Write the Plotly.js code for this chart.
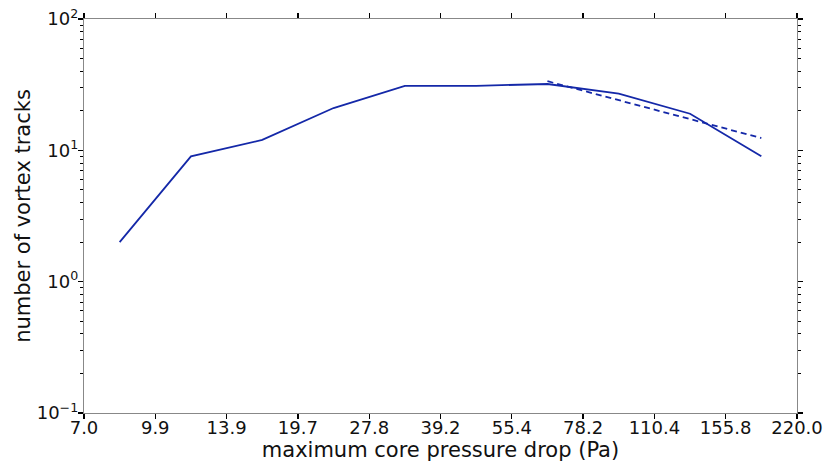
<!DOCTYPE html>
<html>
<head>
<meta charset="utf-8">
<script src="https://cdn.plot.ly/plotly-3.0.1.min.js"></script>
<style>
  html, body { margin: 0; padding: 0; background: #fff; }
  #chart { width: 825px; height: 462px; }
</style>
</head>
<body>
<div id="chart"></div>
<script>
// Bin centres (geometric) of the pressure-drop bins, in Pa
const binCentres = [8.317, 11.741, 16.574, 23.397, 33.029, 46.625, 65.818, 92.912, 131.16, 185.15];
// Vortex track counts per bin
const trackCounts = [2, 9, 12, 21, 31, 31, 32, 27, 19, 9];

// Power-law fit over the upper bins (end points of the straight log-log line)
const fitX = [65.818, 185.15];
const fitY = [33.6, 12.4];

// Bin edges used as x tick positions and labels
const xTickVals = [7.0, 9.88, 13.95, 19.69, 27.8, 39.24, 55.4, 78.2, 110.4, 155.8, 220.0];
const xTickText = ['7.0', '9.9', '13.9', '19.7', '27.8', '39.2', '55.4', '78.2', '110.4', '155.8', '220.0'];

const yTickVals = [0.1, 1, 10, 100];
const yTickText = ['10<sup>\u22121</sup>', '10<sup>0</sup>', '10<sup>1</sup>', '10<sup>2</sup>'];

const lineColor = '#1428a8';

const traces = [
  {
    x: binCentres, y: trackCounts, type: 'scatter', mode: 'lines',
    line: { color: lineColor, width: 1.8 }, hoverinfo: 'skip'
  },
  {
    x: fitX, y: fitY, type: 'scatter', mode: 'lines',
    line: { color: lineColor, width: 1.8, dash: '6px,4px' }, hoverinfo: 'skip'
  }
];

const font = { family: 'DejaVu Sans, sans-serif', color: '#111' };

const layout = {
  width: 825, height: 462,
  margin: { l: 84, r: 28, t: 19, b: 49 },
  paper_bgcolor: '#fff', plot_bgcolor: '#fff',
  showlegend: false,
  font: font,
  xaxis: {
    type: 'log',
    range: [Math.log10(7), Math.log10(220)],
    tickvals: xTickVals, ticktext: xTickText,
    ticks: 'outside', ticklen: 5, tickwidth: 1.3, tickcolor: '#000',
    ticklabelstandoff: -7,
    showline: true, linecolor: '#888', linewidth: 1.2, mirror: 'ticks',
    showgrid: false, zeroline: false,
    tickfont: { family: font.family, size: 18, color: '#111' },
    title: { text: 'maximum core pressure drop (Pa)', font: { family: font.family, size: 21, color: '#111' }, standoff: 0 }
  },
  yaxis: {
    type: 'log',
    range: [-1, 2],
    tickvals: yTickVals, ticktext: yTickText,
    ticks: 'outside', ticklen: 5, tickwidth: 1.3, tickcolor: '#000',
    ticklabelstandoff: -4,
    minor: { dtick: 'D1', ticks: 'outside', ticklen: 3, tickwidth: 1, tickcolor: '#000' },
    showline: true, linecolor: '#888', linewidth: 1.2, mirror: 'ticks',
    showgrid: false, zeroline: false,
    tickfont: { family: font.family, size: 18, color: '#111' },
    title: { text: 'number of vortex tracks', font: { family: font.family, size: 21, color: '#111' }, standoff: 0 }
  }
};

Plotly.newPlot('chart', traces, layout, { staticPlot: true, displayModeBar: false });
</script>
</body>
</html>
